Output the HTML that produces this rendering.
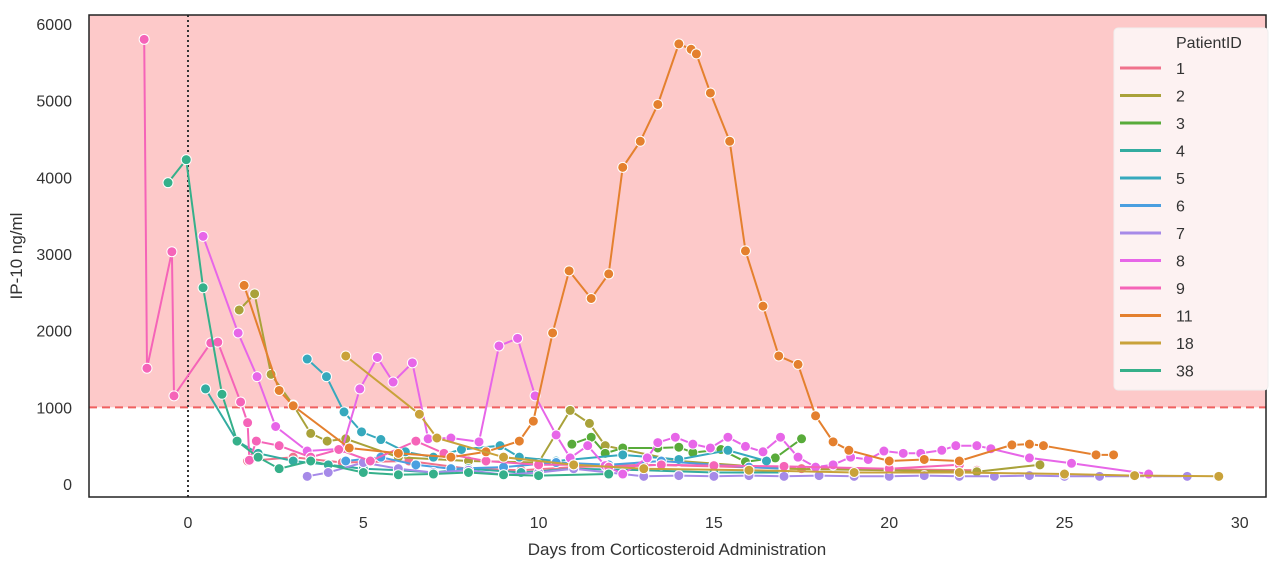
<!DOCTYPE html>
<html><head><meta charset="utf-8"><style>
body{margin:0;background:#fff;font-family:"Liberation Sans",sans-serif;}
svg text{font-family:"Liberation Sans",sans-serif;fill:#333;}
</style></head><body>
<svg id="chart" width="1280" height="561" viewBox="0 0 1280 561">
<rect x="89" y="15" width="1177" height="482" fill="#fff"/>
<g id="bg"></g><g id="series"></g><g id="axes"></g><g id="legend"></g>
</svg>
<script>
const patientIds = ["1","2","3","4","5","6","7","8","9","11","18","38"];
const colors = ["#f0728c","#a9a23a","#58ab3a","#33aca0","#36a9bd","#4a9fe0","#a68ae8","#e766e8","#f564b8","#e4802e","#c9a23a","#35b08a"];
const days1 = [1.7,3,4.4,6.3,8,9.5,11,13,15,17.5,20,22.5];
const vals1 = [300,350,280,300,200,180,220,250,230,200,190,180];
const days2 = [1.46,1.9,2.37,3,3.5,3.97,4.5,6,8,10,10.9,11.45,11.9,14,17,20,22.5,24.3];
const vals2 = [2270,2480,1430,1030,660,560,590,350,300,280,960,790,500,300,200,180,160,250];
const days3 = [10.95,11.5,11.9,12.4,13.4,14,14.4,15.2,15.9,16.75,17.5];
const vals3 = [520,610,400,470,470,480,410,450,290,340,590];
const days4 = [0.5,1.4,2,3,4,5,6,7,8,9.5,11,13,15,17];
const vals4 = [1240,560,400,300,250,200,180,150,200,150,200,180,150,150];
const days5 = [3.4,3.95,4.45,4.95,5.5,6.2,7,7.8,8.9,9.45,10.5,12.4,14,15.4,16.5];
const vals5 = [1630,1400,940,680,580,420,350,450,500,350,300,380,320,440,300];
const days6 = [4.5,5.5,6.5,7.5,9,10.5,12,13.5,15,16,17];
const vals6 = [300,350,250,200,220,280,250,300,250,220,200];
const days7 = [3.4,4,5,6,7,8,9,10,11,12,13,14,15,16,17,18,19,20,21,22,23,24,25,26,27,28.5];
const vals7 = [100,150,280,200,150,180,120,150,200,150,100,110,100,110,100,110,100,100,110,100,100,110,100,100,100,100];
const days8 = [0.43,1.43,1.97,2.5,3.4,4.4,4.9,5.4,5.85,6.4,6.85,7.5,8.3,8.87,9.4,9.9,10.5,10.9,11.4,11.9,12.4,13.1,13.4,13.9,14.4,14.9,15.4,15.9,16.4,16.9,17.4,17.9,18.4,18.9,19.4,19.85,20.4,20.9,21.5,21.9,22.5,22.9,24,25.2,27.4];
const vals8 = [3230,1970,1400,750,430,460,1240,1650,1330,1580,590,600,550,1800,1900,1150,640,340,500,240,130,340,540,610,520,470,610,490,420,610,350,220,250,350,320,430,400,400,440,500,500,460,340,270,130];
const days9 = [-1.25,-1.17,-0.46,-0.4,0.65,0.85,1.5,1.7,1.75,1.95,2.6,3.5,4.3,5.2,6.5,7.3,8.5,10,11,12,13.5,15,17,20,22];
const vals9 = [5800,1510,3030,1150,1840,1850,1070,800,310,560,500,350,450,300,560,400,300,250,250,220,250,240,230,200,250];
const days11 = [1.6,2.6,3,4.6,6,7.5,8.5,9.45,9.85,10.4,10.87,11.5,12,12.4,12.9,13.4,14.0,14.35,14.5,14.9,15.45,15.9,16.4,16.85,17.4,17.9,18.4,18.85,20,21,22,23.5,24,24.4,25.9,26.4];
const vals11 = [2590,1220,1020,470,400,350,420,560,820,1970,2780,2420,2740,4130,4470,4950,5740,5670,5610,5100,4470,3040,2320,1670,1560,890,550,440,300,320,300,510,520,500,380,380];
const days18 = [4.5,6.6,7.1,9,11,13,16,19,22,25,27,29.4];
const vals18 = [1670,910,600,350,250,200,180,150,150,130,110,100];
const days38 = [-0.57,-0.05,0.43,0.97,1.4,2,2.6,3.5,5,6,7,8,9,10,12];
const vals38 = [3930,4230,2560,1170,560,350,200,300,150,120,130,150,120,110,130];
const allDays=[days1,days2,days3,days4,days5,days6,days7,days8,days9,days11,days18,days38];
const allVals=[vals1,vals2,vals3,vals4,vals5,vals6,vals7,vals8,vals9,vals11,vals18,vals38];
const xTicks=[0,5,10,15,20,25,30];
const yTicks=[0,1000,2000,3000,4000,5000,6000];
const threshold=1000;
const X=d=>188+35.06*d;
const Y=v=>484-v*0.07667;
const NS="http://www.w3.org/2000/svg";
function mk(tag,attrs,parent){const e=document.createElementNS(NS,tag);for(const k in attrs)e.setAttribute(k,attrs[k]);parent.appendChild(e);return e;}
const bg=document.getElementById('bg');
let r=mk('rect',{x:89,y:15,width:1177,height:Y(threshold)-15,fill:'#fdc9c9'},bg);


let l=mk('line',{x1:89,x2:1266,y1:Y(threshold),y2:Y(threshold),stroke:'#f06060','stroke-width':2,'stroke-dasharray':'8,5'},bg);


l=mk('line',{x1:X(0),x2:X(0),y1:15,y2:497,stroke:'#333','stroke-width':2,'stroke-dasharray':'2,3'},bg);


const sg=document.getElementById('series');
allDays.forEach((ds,i)=>{
  const g=mk('g',{},sg);
  
  
  const pts=ds.map((d,j)=>X(d).toFixed(1)+','+Y(allVals[i][j]).toFixed(1)).join(' ');
  mk('polyline',{points:pts,fill:'none',stroke:colors[i],'stroke-width':2},g);
  ds.forEach((d,j)=>{
    const c=mk('circle',{cx:X(d),cy:Y(allVals[i][j]),r:5,fill:colors[i],stroke:'#fff','stroke-width':1},g);
    
    
  });
});
const ax=document.getElementById('axes');
let f=mk('rect',{x:89,y:15,width:1177,height:482,fill:'none',stroke:'#222','stroke-width':1.5},ax);


xTicks.forEach(t=>{const e=mk('text',{x:X(t),y:528,'text-anchor':'middle','font-size':16},ax);e.textContent=t;

});
yTicks.forEach(t=>{const e=mk('text',{x:72,y:Y(t)+6,'text-anchor':'end','font-size':16},ax);e.textContent=t;

});
let t=mk('text',{x:677,y:555,'text-anchor':'middle','font-size':17},ax);t.textContent='Days from Corticosteroid Administration';


t=mk('text',{x:22,y:256,'text-anchor':'middle','font-size':17,transform:'rotate(-90 22 256)'},ax);t.textContent='IP-10 ng/ml';


const lg=document.getElementById('legend');
let lb=mk('rect',{x:1114,y:28,width:154,height:362,rx:4,fill:'#fdf2f2',stroke:'#eee'},lg);


t=mk('text',{x:1176,y:48,'font-size':16},lg);t.textContent='PatientID';


patientIds.forEach((p,i)=>{
  const y=68+i*27.5;
  const g=mk('g',{},lg);
  
  
  mk('line',{x1:1120,x2:1161,y1:y,y2:y,stroke:colors[i],'stroke-width':3},g);
  const e=mk('text',{x:1176,y:y+6,'font-size':16},g);e.textContent=p;
});
</script>
</body></html>
